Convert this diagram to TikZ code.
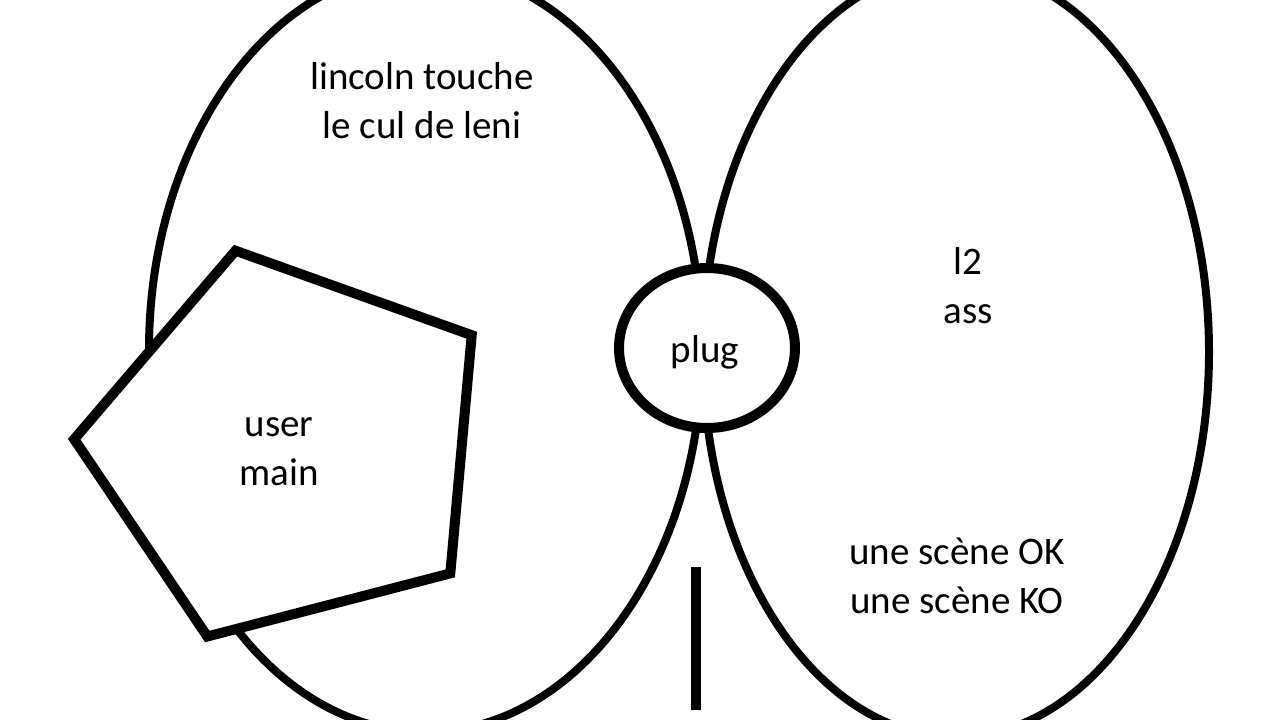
\documentclass[tikz,border=0pt]{standalone}
\usepackage{fontspec}
\setmainfont{Carlito}
\usetikzlibrary{shapes.geometric}
\begin{document}
\begin{tikzpicture}[x=1pt,y=-1pt,
  lbl/.style={align=center,font=\fontsize{39}{49}\selectfont,inner sep=0pt},
  outline/.style={draw=black,line width=8pt},
  thick outline/.style={draw=black,line width=10pt,line join=miter}]
\useasboundingbox (0,0) rectangle (1280,720);
\fill[white] (0,0) rectangle (1280,720);
% two big ellipses
\draw[outline] (425.5,350) ellipse [x radius=276.5, y radius=382];
\draw[outline] (956,352) ellipse [x radius=253, y radius=385];
% pentagon
\coordinate (p1) at (235.5,250.7);
\coordinate (p2) at (471.7,335.2);
\coordinate (p3) at (450.3,573.4);
\coordinate (p4) at (207.3,636.5);
\coordinate (p5) at (74.2,439.2);
\filldraw[thick outline,fill=white] (p1) -- (p2) -- (p3) -- (p4) -- (p5) -- cycle;
% plug
\node[ellipse,thick outline,fill=white,minimum width=176pt,minimum height=160pt,inner sep=0pt,outer sep=0pt] (plugshape) at (707,348) {};
\node[lbl] (plug) at (705,352) {plug};
% vertical bar
\coordinate (bartop) at (696,567);
\coordinate (barbot) at (696,710);
\draw[line width=10pt] (bartop) -- (barbot);
% texts
\node[lbl] (lincoln) at (422,101) {lincoln touche\\le cul de leni};
\node[lbl] (l2) at (968,286) {l2\\ass};
\node[lbl] (user) at (279,452) {user\\main};
\node[lbl] (scene) at (957,576) {une scène OK\\une scène KO};
\end{tikzpicture}
\end{document}
